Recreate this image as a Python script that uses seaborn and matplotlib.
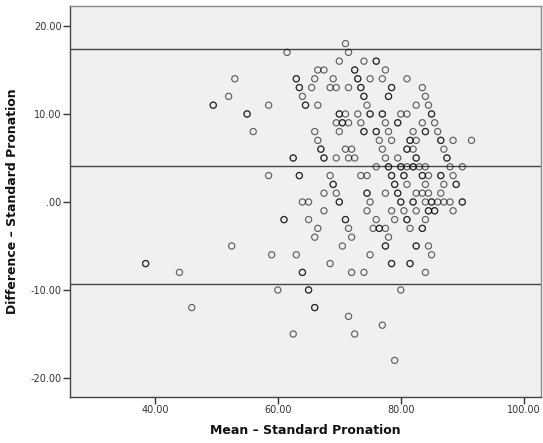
import matplotlib
matplotlib.use("Agg")
import matplotlib.pyplot as plt
import seaborn as sns
import pandas as pd
from matplotlib.ticker import FixedLocator, FuncFormatter

# Difference levels (integer) and the means observed at each level
diff_levels = [18, 17, 16, 15, 14, 13, 12, 11, 10, 9, 8, 7, 6, 5, 4, 3, 2, 1, 0,
               -1, -2, -3, -4, -5, -6, -7, -8, -10, -12, -13, -14, -15, -18]
means_by_level = [
    [71.0],
    [61.5, 71.5],
    [70.0, 74.0, 76.0, 76.0],
    [66.5, 67.5, 72.5, 72.5, 77.5],
    [53.0, 63.0, 63.0, 66.0, 69.0, 73.0, 73.0, 75.0, 77.0, 81.0],
    [63.5, 63.5, 65.5, 68.5, 69.5, 71.5, 73.5, 73.5, 78.5, 78.5, 83.5],
    [52.0, 64.0, 74.0, 74.0, 78.0, 78.0, 84.0],
    [49.5, 49.5, 58.5, 64.5, 64.5, 66.5, 74.5, 82.5, 84.5],
    [55.0, 55.0, 70.0, 70.0, 71.0, 73.0, 75.0, 75.0, 77.0, 77.0, 80.0, 81.0, 85.0, 85.0],
    [69.5, 70.5, 70.5, 71.5, 73.5, 77.5, 79.5, 79.5, 83.5, 85.5],
    [56.0, 66.0, 70.0, 74.0, 74.0, 76.0, 76.0, 78.0, 82.0, 84.0, 84.0, 86.0],
    [66.5, 76.5, 78.5, 81.5, 81.5, 82.5, 86.5, 86.5, 88.5, 91.5],
    [67.0, 67.0, 71.0, 72.0, 77.0, 81.0, 81.0, 82.0, 87.0],
    [62.5, 62.5, 67.5, 67.5, 69.5, 71.5, 72.5, 77.5, 79.5, 82.5, 82.5, 87.5, 87.5],
    [76.0, 78.0, 78.0, 80.0, 80.0, 81.0, 82.0, 82.0, 83.0, 84.0, 88.0, 90.0],
    [58.5, 63.5, 63.5, 68.5, 73.5, 74.5, 78.5, 78.5, 80.5, 80.5, 83.5, 83.5, 84.5,
     86.5, 86.5, 88.5],
    [69.0, 69.0, 79.0, 79.0, 81.0, 84.0, 87.0, 89.0, 89.0],
    [67.5, 69.5, 74.5, 74.5, 77.5, 79.5, 79.5, 82.5, 83.5, 84.5, 86.5],
    [64.0, 65.0, 70.0, 70.0, 75.0, 80.0, 80.0, 82.0, 82.0, 84.0, 85.0, 85.0, 86.0,
     87.0, 88.0, 90.0, 90.0],
    [67.5, 74.5, 78.5, 80.5, 82.5, 84.5, 84.5, 85.5, 85.5, 88.5],
    [61.0, 61.0, 65.0, 71.0, 71.0, 76.0, 79.0, 81.0, 81.0, 84.0],
    [66.5, 71.5, 75.5, 76.5, 76.5, 77.5, 81.5, 83.5, 83.5],
    [66.0, 72.0, 78.0],
    [52.5, 70.5, 77.5, 77.5, 82.5, 82.5, 84.5],
    [59.0, 63.0, 75.0, 85.0],
    [38.5, 38.5, 68.5, 78.5, 78.5, 81.5, 81.5],
    [44.0, 64.0, 64.0, 72.0, 74.0, 84.0],
    [60.0, 65.0, 65.0, 80.0],
    [46.0, 66.0, 66.0],
    [71.5],
    [77.0],
    [62.5, 72.5],
    [79.0],
]

# Bias line and limits of agreement
mean_difference = 4.08
upper_limit = 17.35
lower_limit = -9.32

x_ticks = [40, 60, 80, 100]
y_ticks = [-20, -10, 0, 10, 20]

rows = []
for d, ms in zip(diff_levels, means_by_level):
    for m in ms:
        rows.append({"mean": m, "difference": d})
df = pd.DataFrame(rows)

sns.set_style("white", {"axes.facecolor": "#F0F0F0"})
plt.rcParams["font.family"] = ["DejaVu Sans"]

fig = plt.figure(figsize=(5.43, 4.43), dpi=100)
ax = fig.add_axes([70 / 543, 1 - 397 / 443, 471 / 543, 391 / 443])

for yv in (upper_limit, mean_difference, lower_limit):
    ax.axhline(yv, color="#454545", lw=1.0, zorder=1)

sns.scatterplot(data=df, x="mean", y="difference", ax=ax, marker="o",
                facecolor="none", edgecolor="black", linewidth=0.85,
                s=20, alpha=0.6, zorder=3)

ax.set_xlim(26.2, 102.8)
ax.set_ylim(-22.16, 22.27)


def fmt(v, pos=None):
    s = f"{v:.2f}"
    if s in ("0.00", "-0.00"):
        return ".00"
    return s


ax.xaxis.set_major_locator(FixedLocator(x_ticks))
ax.yaxis.set_major_locator(FixedLocator(y_ticks))
ax.xaxis.set_major_formatter(FuncFormatter(fmt))
ax.yaxis.set_major_formatter(FuncFormatter(fmt))
ax.tick_params(axis="both", direction="out", length=5, width=1.0,
               color="#333333", labelsize=7, labelcolor="#333333", pad=1,
               bottom=True, left=True)

for side in ("left", "bottom"):
    ax.spines[side].set_color("#444444")
    ax.spines[side].set_linewidth(1.0)
for side in ("top", "right"):
    ax.spines[side].set_color("#8a8a8a")
    ax.spines[side].set_linewidth(1.0)

ax.set_xlabel("Mean \u2013 Standard Pronation", fontsize=9, fontweight="bold",
              color="#111111", labelpad=6)
ax.set_ylabel("Difference \u2013 Standard Pronation", fontsize=9, fontweight="bold",
              color="#111111", labelpad=8)

fig.savefig("out.png", dpi=100, facecolor="white")
